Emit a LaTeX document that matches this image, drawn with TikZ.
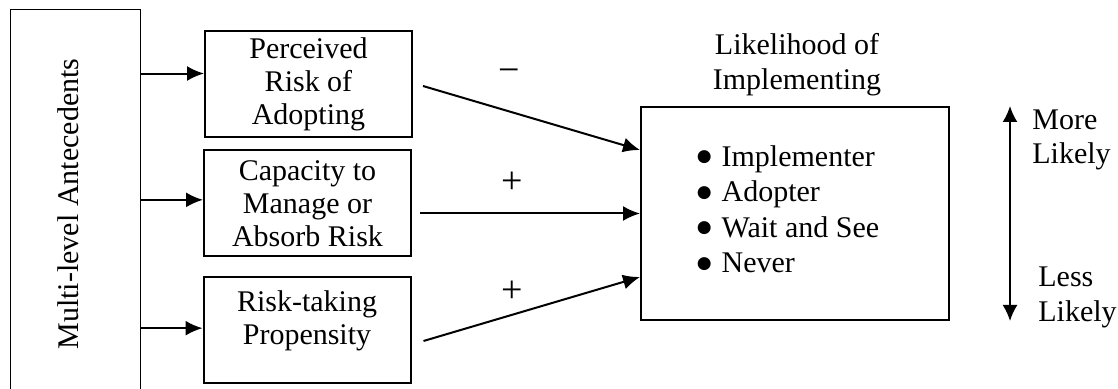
\documentclass[tikz,border=0pt]{standalone}
\usepackage{fontspec}
\setmainfont{Liberation Serif}
\newfontfamily\symfont{DejaVu Sans}
\usetikzlibrary{positioning,arrows.meta}
\newcommand{\bul}{\raisebox{2.1pt}{\symfont\fontsize{8.5}{8.5}\selectfont ●}\hspace{5pt}}
\begin{document}
\begin{tikzpicture}[x=0.5pt, y=-0.5pt, font=\fontsize{15}{16.5}\selectfont]
	\tikzset{b/.style={draw=black, line width=1pt, align=center, inner sep=0pt,
		minimum width=103.5pt, minimum height=53pt},
	f/.style={-{Latex[length=8.5pt, width=7.5pt]}, line width=1pt},
	sg/.style={font=\fontsize{19}{19}\selectfont, inner sep=0pt}};

	\useasboundingbox (0,0) rectangle (1118,389);
	\clip (0,0) rectangle (1118,389);

	\node[draw=black, line width=0.65pt, anchor=north west, inner sep=0pt,
		minimum width=65pt, minimum height=210pt] (ante) at (10,9) {};
	\node[rotate=90, inner sep=0pt] (antetext) at (68,204) {Multi-level Antecedents};

	\node[b] (perc) at (308.5,84.5) {Perceived\\Risk of\\Adopting};
	\node[b] (cap) at (307.5,203.5) {Capacity to\\Manage or\\Absorb Risk};
	\node[b] (risk) at (307,330) {Risk-taking\\Propensity\\[-4.5pt]\mbox{}};

	\node[draw=black, line width=1pt, minimum width=154pt, minimum height=106.5pt,
		inner sep=0pt] (impl) at (795,213.5) {};
	\node[align=left, inner sep=0pt, font=\fontsize{15}{17.75}\selectfont] (opts) at (788,209)
		{\bul Implementer\\\bul Adopter\\\bul Wait and See\\\bul Never};
	\node[align=center, inner sep=0pt, font=\fontsize{15}{17.5}\selectfont] (title) at (797,64.5)
		{Likelihood of\\Implementing};

	\draw[f] (ante.east |- perc.174) -- (perc.174);
	\draw[f] (ante.east |- cap.178) -- (cap.178);
	\draw[f] (ante.east |- risk.179) -- (risk.179);

	\coordinate (percout) at ([xshift=5pt, yshift=-0.75pt]perc.east);
	\coordinate (capout) at ([xshift=4pt]cap.east);
	\coordinate (riskout) at ([xshift=6pt, yshift=-5.5pt]risk.east);
	\draw[f] (percout) -- ([yshift=31.75pt]impl.west);
	\draw[f] (capout |- impl.west) -- (impl.west);
	\draw[f] (riskout) -- ([yshift=-31.75pt]impl.west);

	\node[sg] (minus) at (509,76) {−};
	\node[sg] (plus1) at (512,183) {+};
	\node[sg] (plus2) at (512,292) {+};

	\coordinate (up) at ([xshift=30pt]impl.north east);
	\coordinate (down) at ([xshift=30pt]impl.south east);
	\draw[{Latex[length=8pt, width=7.5pt]}-{Latex[length=8pt, width=7.5pt]}, line width=1pt] (up) -- (down);

	\node[align=left, anchor=west, inner sep=0pt, font=\fontsize{15}{17}\selectfont] (more) at (1032,140) {More\\Likely};
	\node[align=left, anchor=west, inner sep=0pt, font=\fontsize{15}{17.5}\selectfont] (less) at (1038,297.5) {Less\\Likely};
\end{tikzpicture}
\end{document}
